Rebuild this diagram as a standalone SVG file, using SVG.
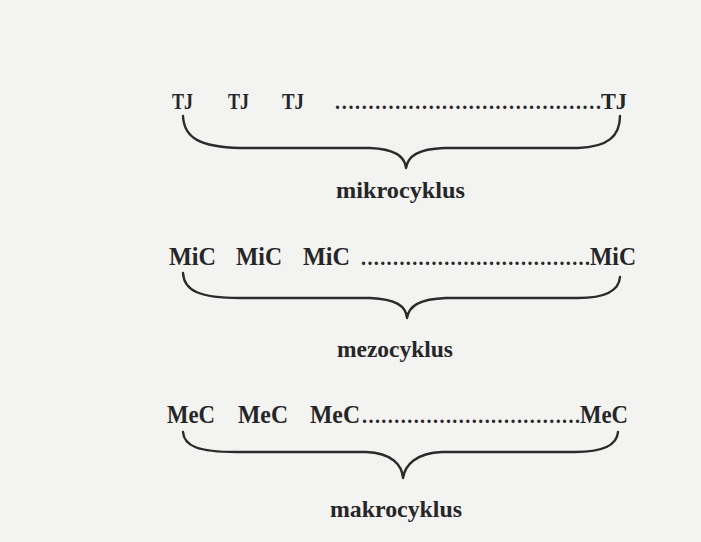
<svg xmlns="http://www.w3.org/2000/svg" width="701" height="542" viewBox="0 0 701 542">
  <style>
    .t { font-family: "Liberation Serif", "Times New Roman", serif; font-weight: bold; fill: #262626; }
    .r1 { font-size: 23px; }
    .r2 { font-size: 26px; }
    .dots { font-size: 20px; }
    .lbl { font-size: 24px; }
    .brace { fill: none; stroke: #2b2b2b; stroke-width: 2.4; stroke-linecap: round; stroke-linejoin: round; }
  </style>
  <rect x="0" y="0" width="701" height="542" fill="#f3f3f1"/>

  <g id="row-mikro">
    <text class="t r1" x="172" y="109" textLength="21" lengthAdjust="spacingAndGlyphs">TJ</text>
    <text class="t r1" x="228" y="109" textLength="21" lengthAdjust="spacingAndGlyphs">TJ</text>
    <text class="t r1" x="282" y="109" textLength="22" lengthAdjust="spacingAndGlyphs">TJ</text>
    <text class="t dots" x="335" y="109" textLength="266" lengthAdjust="spacing">........................................</text>
    <text class="t r1" x="601" y="109" textLength="26" lengthAdjust="spacingAndGlyphs">TJ</text>
  </g>
  <g id="label-mikro">
    <text class="t lbl" x="336" y="198" textLength="129" lengthAdjust="spacingAndGlyphs">mikrocyklus</text>
  </g>

  <g id="row-mezo">
    <text class="t r2" x="169" y="265" textLength="47" lengthAdjust="spacingAndGlyphs">MiC</text>
    <text class="t r2" x="236" y="265" textLength="46" lengthAdjust="spacingAndGlyphs">MiC</text>
    <text class="t r2" x="303" y="265" textLength="47" lengthAdjust="spacingAndGlyphs">MiC</text>
    <text class="t dots" x="361" y="265" textLength="229" lengthAdjust="spacing">....................................</text>
    <text class="t r2" x="590" y="265" textLength="46" lengthAdjust="spacingAndGlyphs">MiC</text>
  </g>
  <g id="label-mezo">
    <text class="t lbl" x="337" y="357" textLength="116" lengthAdjust="spacingAndGlyphs">mezocyklus</text>
  </g>

  <g id="row-makro">
    <text class="t r2" x="167" y="423" textLength="48" lengthAdjust="spacingAndGlyphs">MeC</text>
    <text class="t r2" x="238" y="423" textLength="50" lengthAdjust="spacingAndGlyphs">MeC</text>
    <text class="t r2" x="310" y="423" textLength="50" lengthAdjust="spacingAndGlyphs">MeC</text>
    <text class="t dots" x="362" y="423" textLength="218" lengthAdjust="spacing">..................................</text>
    <text class="t r2" x="580" y="423" textLength="48" lengthAdjust="spacingAndGlyphs">MeC</text>
  </g>
  <g id="label-makro">
    <text class="t lbl" x="330" y="517" textLength="132" lengthAdjust="spacingAndGlyphs">makrocyklus</text>
  </g>

  <g id="connectors">
    <path class="brace" d="M183,116 C184,138 200,147 240,148 L370,148 C395,149 405,156 406,168 C408,156 418,149 444,148 L578,148 C608,147 620,136 620,116"/>
    <path class="brace" d="M183,273 C184,291 200,298 240,298 L370,298 C396,299 406,306 407,318 C409,306 419,299 446,298 L578,298 C606,298 619,290 620,277"/>
    <path class="brace" d="M183,432 C184,446 198,452 236,452 L366,452 C392,453 402,465 403,478 C405,465 416,453 442,452 L575,452 C604,452 617,445 618,432"/>
  </g>
</svg>
